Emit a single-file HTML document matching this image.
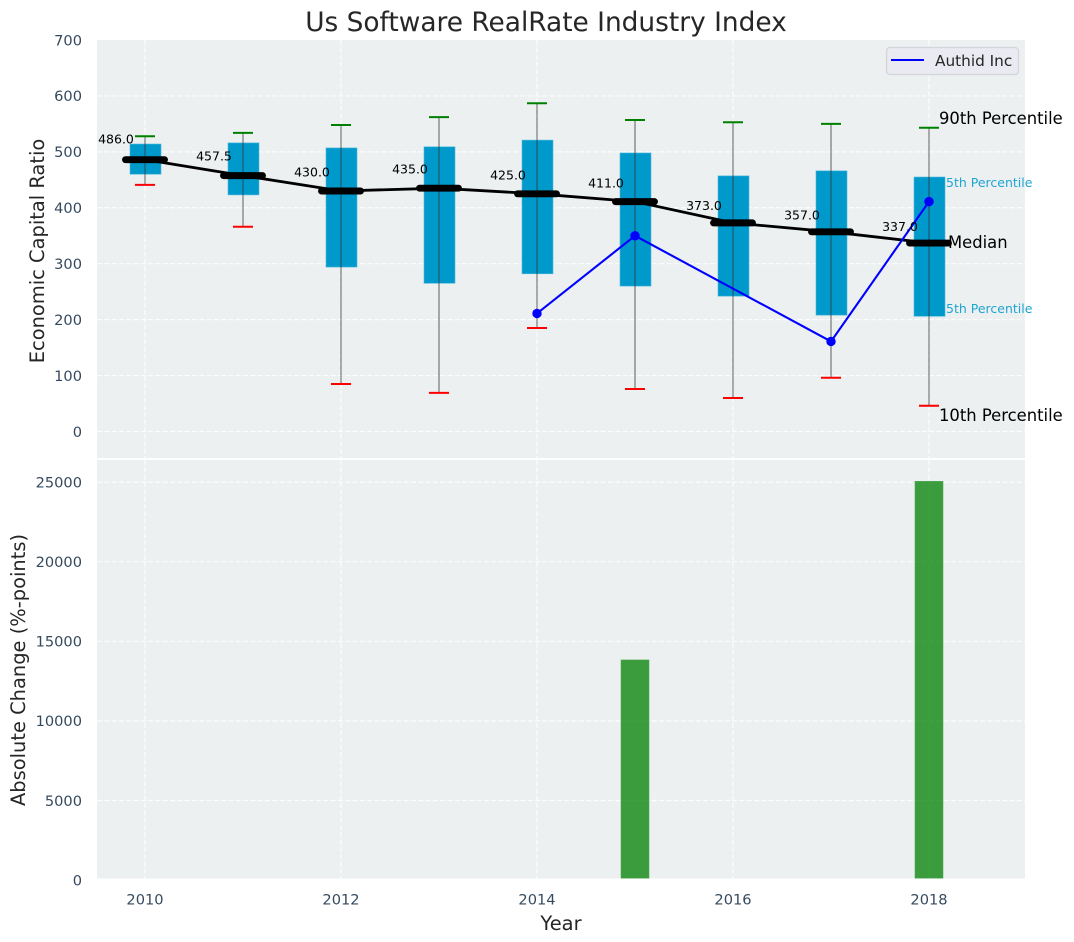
<!DOCTYPE html>
<html lang="en">
<head>
<meta charset="utf-8">
<title>Us Software RealRate Industry Index</title>
<style>
html,body{margin:0;padding:0;background:#fff;}
svg{display:block;font-family:"DejaVu Sans","Liberation Sans",sans-serif;}
</style>
</head>
<body>
<svg id="chart" xmlns="http://www.w3.org/2000/svg" width="1074" height="942" viewBox="0 0 1074 942"></svg>
<script>
const years = [2010, 2011, 2012, 2013, 2014, 2015, 2016, 2017, 2018];
const p90 = [528, 534, 548, 562, 587, 557, 553, 550, 543];
const p10 = [441, 366, 85, 69, 185, 76, 60, 96, 46];
const boxHigh = [514, 516, 507, 509, 521, 498, 457, 466, 455];
const boxLow = [460, 423, 294, 265, 282, 260, 242, 208, 206];
const medians = [486, 457.5, 430, 435, 425, 411, 373, 357, 337];
const authidYears = [2014, 2015, 2017, 2018];
const authidValues = [211, 350, 161, 411];
const changeYears = [2015, 2018];
const changeValues = [13850, 25070];
const xTicks = [2010, 2012, 2014, 2016, 2018];
const yTicksTop = [0, 100, 200, 300, 400, 500, 600, 700];
const yTicksBottom = [0, 5000, 10000, 15000, 20000, 25000];

const NS = 'http://www.w3.org/2000/svg';
const svg = document.getElementById('chart');
const L = 97, R = 1025, T1 = 40, B1 = 458, T2 = 460, B2 = 878.5;
const xs = v => 145 + (v - 2010) * 98;
const y1 = v => 431.5 - v * 0.5593;
const y2 = v => 880.1 - v * 0.01592;

function make(tag, attrs, text) {
  const el = document.createElementNS(NS, tag);
  for (const k in attrs) el.setAttribute(k, attrs[k]);
  if (text !== undefined) el.textContent = text;
  svg.appendChild(el);
  return el;
}
let el;

// Panels
el = make('rect', {x: L, y: T1, width: R - L, height: B1 - T1, fill: '#ecf0f1'});


el = make('rect', {x: L, y: T2, width: R - L, height: B2 - T2, fill: '#ecf0f1'});



// Grid
const grid = {stroke: '#ffffff', 'stroke-width': 1.2, 'stroke-dasharray': '5.1 2.2', 'stroke-opacity': 0.85};
xTicks.forEach(t => {
  el = make('line', {x1: xs(t), x2: xs(t), y1: T1, y2: B1, ...grid});
  
  
  el = make('line', {x1: xs(t), x2: xs(t), y1: T2, y2: B2, ...grid});
  
  
  el = make('text', {x: xs(t), y: 904.5, 'text-anchor': 'middle', 'font-size': 14.6, fill: '#34495e'}, String(t));
  
  
});
yTicksTop.forEach(t => {
  if (t !== 700) {
    el = make('line', {x1: L, x2: R, y1: y1(t), y2: y1(t), ...grid});
    
    
  }
  el = make('text', {x: 82, y: y1(t) + 5.3, 'text-anchor': 'end', 'font-size': 14.6, fill: '#34495e'}, String(t));
  
  
});
yTicksBottom.forEach(t => {
  if (t !== 0) {
    el = make('line', {x1: L, x2: R, y1: y2(t), y2: y2(t), ...grid});
    
    
  }
  el = make('text', {x: 82, y: y2(t) + 5.3, 'text-anchor': 'end', 'font-size': 14.6, fill: '#34495e'}, String(t));
  
  
});

// Boxes
years.forEach((yr, i) => {
  el = make('rect', {x: xs(yr) - 15, y: y1(boxHigh[i]), width: 31, height: y1(boxLow[i]) - y1(boxHigh[i]), fill: '#0099cc', stroke: '#4db8dc', 'stroke-width': 0.6});
  
  
});
// Whiskers and caps
years.forEach((yr, i) => {
  el = make('line', {x1: xs(yr), x2: xs(yr), y1: y1(p90[i]), y2: y1(p10[i]), stroke: '#333333', 'stroke-opacity': 0.55, 'stroke-width': 1.4});
  
  
  el = make('line', {x1: xs(yr) - 10, x2: xs(yr) + 10, y1: y1(p90[i]), y2: y1(p90[i]), stroke: '#008000', 'stroke-width': 2});
  
  
  el = make('line', {x1: xs(yr) - 10, x2: xs(yr) + 10, y1: y1(p10[i]), y2: y1(p10[i]), stroke: '#ff0000', 'stroke-width': 2});
  
  
});

// Median trend
el = make('polyline', {points: years.map((yr, i) => xs(yr) + ',' + y1(medians[i])).join(' '), fill: 'none', stroke: '#000000', 'stroke-width': 2.8});



// Authid series
el = make('polyline', {points: authidYears.map((yr, i) => xs(yr) + ',' + y1(authidValues[i])).join(' '), fill: 'none', stroke: '#0000ff', 'stroke-width': 2.1});


authidYears.forEach((yr, i) => {
  el = make('circle', {cx: xs(yr), cy: y1(authidValues[i]), r: 4.7, fill: '#0000ff'});
  
  
});

// Median markers and labels
years.forEach((yr, i) => {
  el = make('line', {x1: xs(yr) - 19.5, x2: xs(yr) + 19.5, y1: y1(medians[i]), y2: y1(medians[i]), stroke: '#000000', 'stroke-width': 6.9, 'stroke-linecap': 'round'});
  
  
  el = make('text', {x: xs(yr) - 29, y: y1(medians[i] * 1.05) - 2.5, 'text-anchor': 'middle', 'font-size': 12.5, fill: '#000000'}, medians[i].toFixed(1));
  
  
});

// Bars
changeYears.forEach((yr, i) => {
  el = make('rect', {x: xs(yr) - 14.3, y: y2(changeValues[i]), width: 28.6, height: B2 - y2(changeValues[i]), fill: '#008000', 'fill-opacity': 0.75, stroke: '#ffffff', 'stroke-opacity': 0.15, 'stroke-width': 1});
  
  
});

// Annotations
el = make('text', {x: 939, y: 124, 'font-size': 16.4, fill: '#000000'}, '90th Percentile');


el = make('text', {x: 939, y: 421, 'font-size': 16.4, fill: '#000000'}, '10th Percentile');


el = make('text', {x: 948, y: 248, 'font-size': 16.4, fill: '#000000'}, 'Median');


el = make('text', {x: 946, y: 187, 'font-size': 12.5, fill: '#1fa5d1'}, '5th Percentile');


el = make('text', {x: 946, y: 313, 'font-size': 12.5, fill: '#1fa5d1'}, '5th Percentile');



// Legend
el = make('rect', {x: 886.5, y: 47.5, width: 132, height: 27, rx: 3.5, fill: '#eaeaf2', stroke: '#d4d4da', 'stroke-width': 1.3});


el = make('line', {x1: 891, x2: 924, y1: 60, y2: 60, stroke: '#0000ff', 'stroke-width': 2.1});


el = make('text', {x: 935, y: 66, 'font-size': 15.3, fill: '#262626'}, 'Authid Inc');



// Titles
el = make('text', {x: 546, y: 31, 'text-anchor': 'middle', 'font-size': 26.4, fill: '#262626'}, 'Us Software RealRate Industry Index');


el = make('text', {x: 561, y: 930, 'text-anchor': 'middle', 'font-size': 19.44, fill: '#262626'}, 'Year');


el = make('text', {x: 0, y: 0, transform: 'translate(44 251) rotate(-90)', 'text-anchor': 'middle', 'font-size': 19.44, fill: '#262626'}, 'Economic Capital Ratio');


el = make('text', {x: 0, y: 0, transform: 'translate(25 670) rotate(-90)', 'text-anchor': 'middle', 'font-size': 19.44, fill: '#262626'}, 'Absolute Change (%-points)');


</script>
</body>
</html>
